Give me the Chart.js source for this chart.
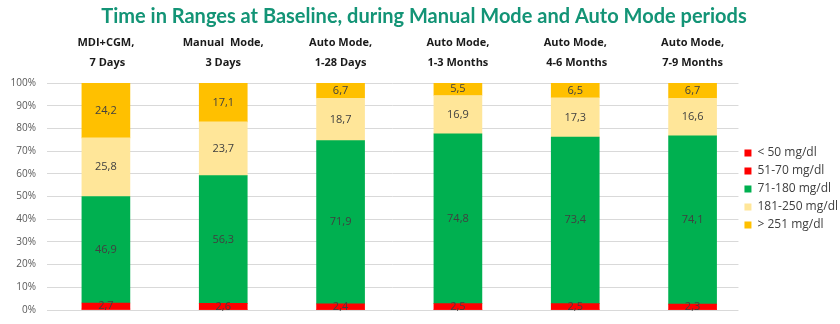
<!DOCTYPE html>
<html>
<head>
<meta charset="utf-8">
<script src="https://cdn.jsdelivr.net/npm/chart.js@4.4.1/dist/chart.umd.min.js"></script>
<style>
  html, body { margin: 0; padding: 0; background: #fff; }
  #wrap { width: 840px; height: 324px; }
</style>
</head>
<body>
<div id="wrap"><canvas id="chart" width="840" height="324"></canvas></div>
<script>
const categories = [
    ['MDI+CGM,', ' 7 Days'],
    ['Manual  Mode,', '3 Days'],
    ['Auto Mode,', '1-28 Days'],
    ['Auto Mode,', '1-3 Months'],
    ['Auto Mode,', ' 4-6 Months'],
    ['Auto Mode,', '7-9 Months']
];
const seriesNames = ['< 50 mg/dl', '51-70 mg/dl', '71-180 mg/dl', '181-250 mg/dl', '> 251 mg/dl'];
const below50 = [0.4, 0.3, 0.3, 0.3, 0.3, 0.3];
const range51to70 = [2.7, 2.6, 2.4, 2.5, 2.5, 2.3];
const range71to180 = [46.9, 56.3, 71.9, 74.8, 73.4, 74.1];
const range181to250 = [25.8, 23.7, 18.7, 16.9, 17.3, 16.6];
const above251 = [24.2, 17.1, 6.7, 5.5, 6.5, 6.7];
const yTicks = [0, 10, 20, 30, 40, 50, 60, 70, 80, 90, 100];

const colors = ['#FF0000', '#FF0000', '#00B050', '#FFE699', '#FFC000'];
const showLabel = [false, true, true, true, true];

// value in the middle of every segment, comma as decimal sign
const segmentLabels = {
    id: 'segmentLabels',
    afterDatasetsDraw(chart) {
        const ctx = chart.ctx;
        ctx.save();
        ctx.font = '11px "Open Sans", sans-serif';
        ctx.fillStyle = '#404040';
        ctx.textAlign = 'center';
        ctx.textBaseline = 'middle';
        chart.data.datasets.forEach((ds, i) => {
            if (!showLabel[i]) return;
            chart.getDatasetMeta(i).data.forEach((bar, j) => {
                const mid = (bar.y + bar.base) / 2;
                ctx.fillText(ds.data[j].y.toFixed(1).replace('.', ','), bar.x, mid);
            });
        });
        ctx.restore();
    }
};

const allSeries = [below50, range51to70, range71to180, range181to250, above251];

new Chart(document.getElementById('chart'), {
    type: 'bar',
    data: {
        datasets: allSeries.map((vals, i) => ({
            label: seriesNames[i],
            data: vals.map((v, j) => ({ x: j, y: v })),
            backgroundColor: colors[i],
            borderWidth: 0,
            barThickness: 48
        }))
    },
    options: {
        responsive: false,
        animation: false,
        layout: { padding: { left: 0, right: -8, top: 0, bottom: 14 } },
        plugins: {
            title: {
                display: true,
                text: 'Time in Ranges at Baseline, during Manual Mode and Auto Mode periods',
                color: '#139476',
                font: { family: 'Lato', size: 20, weight: 'bold' },
                padding: { top: 5, bottom: 2 }
            },
            legend: {
                position: 'right',
                fullSize: false,
                align: 'start',
                title: { display: true, text: '', font: { size: 10 }, padding: { top: 0, bottom: 46 } },
                labels: {
                    boxWidth: 7,
                    boxHeight: 7,
                    padding: 6,
                    color: '#404040',
                    font: { family: '"Open Sans", sans-serif', size: 12 }
                }
            },
            tooltip: { enabled: false }
        },
        scales: {
            x: {
                type: 'linear',
                stacked: true,
                position: 'top',
                offset: false,
                min: -0.502,
                max: 5.391,
                afterBuildTicks(scale) { scale.ticks = categories.map((c, i) => ({ value: i })); },
                grid: { display: false },
                border: { display: false },
                ticks: {
                    color: '#1a1a1a',
                    font: { family: '"Open Sans", sans-serif', size: 11, weight: 'bold', lineHeight: 1.75 },
                    maxRotation: 0,
                    autoSkip: false,
                    callback: v => categories[v]
                },
                afterFit(scale) { scale.height = 52; scale.paddingBottom = 0; }
            },
            y: {
                stacked: true,
                min: 0,
                max: 100,
                afterBuildTicks(scale) { scale.ticks = yTicks.map(v => ({ value: v })); },
                grid: { color: '#d9d9d9', drawTicks: false },
                border: { display: false },
                ticks: {
                    color: '#595959',
                    padding: 11,
                    font: { family: '"Open Sans", sans-serif', size: 10 },
                    callback: v => v + '%'
                },
                afterFit(scale) { scale.width = 47; scale.paddingBottom = 0; scale.paddingTop = 0; }
            }
        }
    },
    plugins: [segmentLabels]
});
</script>
</body>
</html>
